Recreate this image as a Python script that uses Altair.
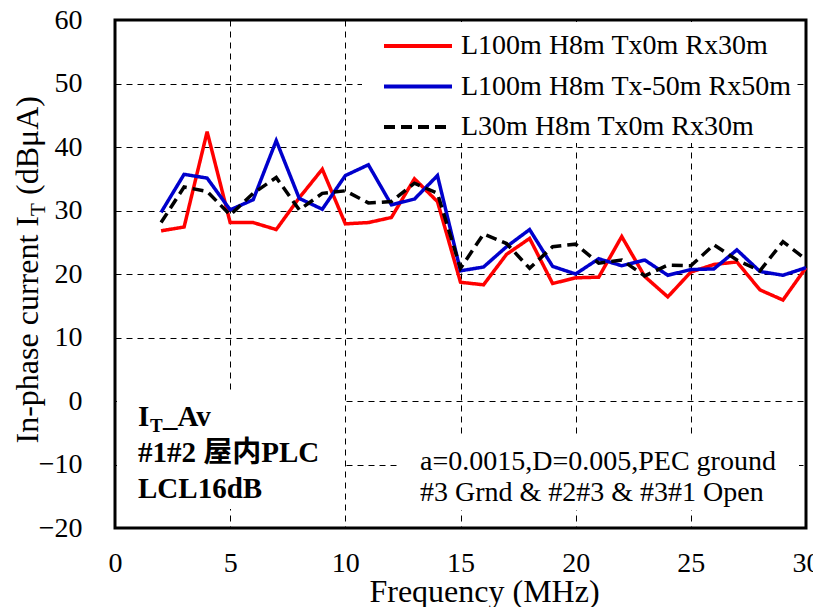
import altair as alt
import pandas as pd

freq = list(range(2, 31))
red = [26.8, 27.4, 42.4, 28.1, 28.1, 27.0, 32.0, 36.5, 27.9, 28.1, 28.9, 35.0, 31.4, 18.7, 18.3,
       23.1, 25.6, 18.5, 19.4, 19.5, 25.9, 19.6, 16.4, 20.3, 21.5, 21.9, 17.5, 15.9, 21.0]
blue = [29.7, 35.7, 35.1, 30.1, 31.7, 41.0, 31.9, 30.2, 35.5, 37.2, 30.9, 31.8, 35.5, 20.5, 21.1,
        24.3, 27.0, 21.2, 20.0, 22.4, 21.3, 22.2, 19.8, 20.7, 20.8, 23.8, 20.4, 19.8, 21.0]
black = [28.1, 33.7, 33.0, 29.3, 32.7, 35.2, 30.1, 32.7, 33.1, 31.2, 31.4, 34.3, 32.7, 20.9, 26.3,
         24.8, 20.9, 24.3, 24.7, 21.7, 22.2, 19.7, 21.4, 21.3, 24.6, 22.2, 20.5, 25.1, 22.3]

series = ["L100m H8m Tx0m Rx30m", "L100m H8m Tx-50m Rx50m", "L30m H8m Tx0m Rx30m"]
colors = ["#ff0000", "#0000cc", "#000000"]
dashes = [[1, 0], [1, 0], [11, 6]]
x_ticks = [0, 5, 10, 15, 20, 25, 30]
y_ticks = [-20, -10, 0, 10, 20, 30, 40, 50, 60]

rows = []
for name, vals in zip(series, [red, blue, black]):
    for f, v in zip(freq, vals):
        rows.append({"freq": f, "value": v, "series": name})
df = pd.DataFrame(rows)

SERIF = "Liberation Serif, Times New Roman, serif"
SERIF_CJK = "Liberation Serif, Noto Sans CJK JP, serif"

lines = alt.Chart(df).mark_line(strokeWidth=3.5).encode(
    x=alt.X("freq:Q", scale=alt.Scale(domain=[0, 30], nice=False),
            axis=alt.Axis(values=x_ticks, title="Frequency (MHz)", format="d")),
    y=alt.Y("value:Q", scale=alt.Scale(domain=[-20, 60], nice=False),
            axis=alt.Axis(values=y_ticks, title=None, format="d")),
    color=alt.Color("series:N", scale=alt.Scale(domain=series, range=colors),
                    legend=alt.Legend(title=None)),
    strokeDash=alt.StrokeDash("series:N", scale=alt.Scale(domain=series, range=dashes),
                              legend=alt.Legend(title=None)),
)

one = alt.Data(values=[{}])

def box(x1, x2, y1, y2):
    return alt.Chart(one).mark_rect(fill="white").encode(
        x=alt.value(x1), x2=alt.value(x2), y=alt.value(y1), y2=alt.value(y2))

def txt(s, x, y, size, bold=False, angle=0, align="left", font=SERIF):
    props = dict(fontSize=size, font=font, fontWeight="bold" if bold else "normal",
                 align=align, baseline="alphabetic", color="black")
    if angle:
        props["angle"] = angle
    return alt.Chart(one).mark_text(**props).encode(
        x=alt.value(x), y=alt.value(y), text=alt.value(s))

boxes = [
    box(247, 680, 2, 123),
    box(2, 227, 370, 489),
    box(285, 684, 417, 490),
]

texts = [
    # y-axis title with subscript
    txt("In-phase current I", -77, 196, 32, angle=270, align="right"),
    txt("T", -70, 196, 21, angle=270, align="left"),
    txt("(dBμA)", -77, 175, 32, angle=270, align="left"),
    # left annotation
    txt("I", 23, 406, 29, bold=True),
    txt("T", 35, 412, 19, bold=True),
    txt("_Av", 48, 406, 29, bold=True),
    txt("#1#2 屋内PLC", 23, 442, 29, bold=True, font=SERIF_CJK),
    txt("LCL16dB", 23, 478, 29, bold=True),
    # right annotation
    txt("a=0.0015,D=0.005,PEC ground", 305, 450, 28),
    txt("#3 Grnd & #2#3 & #3#1 Open", 305, 481, 28),
]

chart = alt.layer(lines, *boxes, *texts).properties(
    width=691, height=508,
    autosize=alt.AutoSizeParams(type="none"),
    padding={"left": 115, "top": 20, "right": 7, "bottom": 79},
).configure_view(
    stroke="black", strokeWidth=3
).configure_axis(
    grid=True, gridColor="black", gridDash=[6, 5], gridWidth=1, gridOpacity=1,
    domain=False, ticks=False,
    labelFont=SERIF, labelFontSize=28, labelColor="black",
    titleFont=SERIF, titleFontSize=32, titleFontWeight="normal", titleColor="black",
).configure_axisX(
    labelPadding=21, titlePadding=-1, labelFlush=False,
    titleX=369, titleAlign="center",
).configure_axisY(
    labelPadding=33,
).configure_legend(
    orient="none", legendX=284, legendY=7, padding=0,
    symbolType="M-2,0H2", symbolSize=1156, symbolStrokeWidth=4,
    labelFont=SERIF, labelFontSize=28, labelColor="black", labelOffset=24,
    rowPadding=7.5, labelLimit=500,
)

chart.save("out.html", embed_options={"renderer": "svg", "actions": False})
